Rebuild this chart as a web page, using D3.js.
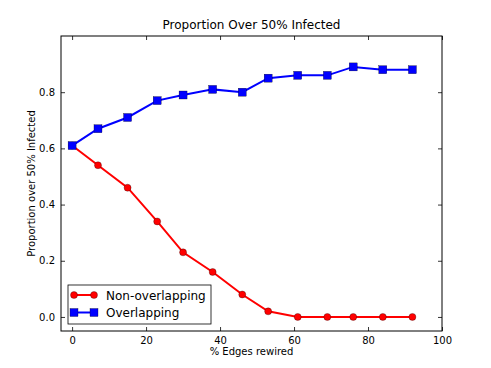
<!DOCTYPE html>
<html>
<head>
<meta charset="utf-8">
<script src="https://cdn.jsdelivr.net/npm/d3@7"></script>
<style>
  body { margin: 0; background: #fff; }
  svg text { font-family: "DejaVu Sans", sans-serif; }
</style>
</head>
<body>
<svg width="491" height="368"></svg>
<script>
const width = 491;
const height = 368;

// Data
const rewired = [0, 7, 15, 23, 30, 38, 46, 53, 61, 69, 76, 84, 92];
const nonOverlapping = [0.61, 0.54, 0.46, 0.34, 0.23, 0.16, 0.08, 0.02, 0, 0, 0, 0, 0];
const overlapping = [0.61, 0.67, 0.71, 0.77, 0.79, 0.81, 0.80, 0.85, 0.86, 0.86, 0.89, 0.88, 0.88];
const xTicks = [0, 20, 40, 60, 80, 100];
const yTicks = [0, 0.2, 0.4, 0.6, 0.8];

const margin = { left: 61, right: 49, top: 36, bottom: 37 };
const svg = d3.select("svg");

const x = d3.scaleLinear().domain([-3, 100]).range([margin.left, width - margin.right]);
const y = d3.scaleLinear().domain([-0.05, 1.0]).range([height - margin.bottom, margin.top]);

// Ticks (inside, on all four sides)
const tickLen = 4;
const xAxisB = svg.append("g").attr("transform", `translate(0,${y.range()[0]})`)
  .call(d3.axisBottom(x).tickValues(xTicks).tickSizeInner(-tickLen).tickSizeOuter(0).tickPadding(6).tickFormat(d3.format("d")));
const xAxisT = svg.append("g").attr("transform", `translate(0,${y.range()[1]})`)
  .call(d3.axisTop(x).tickValues(xTicks).tickSizeInner(-tickLen).tickSizeOuter(0).tickFormat(""));
const yAxisL = svg.append("g").attr("transform", `translate(${x.range()[0]},0)`)
  .call(d3.axisLeft(y).tickValues(yTicks).tickSizeInner(-tickLen).tickSizeOuter(0).tickPadding(6).tickFormat(d3.format(".1f")));
const yAxisR = svg.append("g").attr("transform", `translate(${x.range()[1]},0)`)
  .call(d3.axisRight(y).tickValues(yTicks).tickSizeInner(-tickLen).tickSizeOuter(0).tickFormat(""));

[xAxisB, xAxisT, yAxisL, yAxisR].forEach(g => {
  g.select(".domain").remove();
  g.selectAll("line").attr("stroke", "#000").attr("stroke-width", 0.8);
  g.selectAll("text").attr("font-size", 10).attr("fill", "#000").attr("font-family", "DejaVu Sans, sans-serif");
});

// Frame
svg.append("rect")
  .attr("x", x.range()[0]).attr("y", y.range()[1])
  .attr("width", x.range()[1] - x.range()[0])
  .attr("height", y.range()[0] - y.range()[1])
  .attr("fill", "none").attr("stroke", "#000").attr("stroke-width", 1);

const line = d3.line().x(d => x(d[0])).y(d => y(d[1]));
const redData = rewired.map((r, i) => [r, nonOverlapping[i]]);
const blueData = rewired.map((r, i) => [r, overlapping[i]]);

// Non-overlapping series
svg.append("path").datum(redData).attr("d", line)
  .attr("fill", "none").attr("stroke", "#ff0000").attr("stroke-width", 2);
svg.append("g").selectAll("circle").data(redData).enter().append("circle")
  .attr("cx", d => x(d[0])).attr("cy", d => y(d[1])).attr("r", 3.5)
  .attr("fill", "#ff0000").attr("stroke", "#000").attr("stroke-width", 0.3);

// Overlapping series
svg.append("path").datum(blueData).attr("d", line)
  .attr("fill", "none").attr("stroke", "#0000ff").attr("stroke-width", 2);
svg.append("g").selectAll("rect").data(blueData).enter().append("rect")
  .attr("x", d => x(d[0]) - 4).attr("y", d => y(d[1]) - 4).attr("width", 8).attr("height", 8)
  .attr("fill", "#0000ff").attr("stroke", "#000").attr("stroke-width", 0.3);

// Title and labels
svg.append("text").attr("x", (x.range()[0] + x.range()[1]) / 2).attr("y", 29)
  .attr("text-anchor", "middle").attr("font-size", 12).text("Proportion Over 50% Infected");
svg.append("text").attr("x", (x.range()[0] + x.range()[1]) / 2).attr("y", 355)
  .attr("text-anchor", "middle").attr("font-size", 10).text("% Edges rewired");
svg.append("text")
  .attr("transform", `translate(35,${(y.range()[0] + y.range()[1]) / 2}) rotate(-90)`)
  .attr("text-anchor", "middle").attr("font-size", 10).text("Proportion over 50% Infected");

// Legend
const legend = svg.append("g");
legend.append("rect").attr("x", 68).attr("y", 285).attr("width", 143).attr("height", 39)
  .attr("fill", "#fff").attr("stroke", "#000").attr("stroke-width", 0.8);
const items = [
  { label: "Non-overlapping", color: "#ff0000", shape: "circle" },
  { label: "Overlapping", color: "#0000ff", shape: "square" }
];
items.forEach((it, i) => {
  const ly = 295 + i * 17.5;
  legend.append("line").attr("x1", 74).attr("x2", 94).attr("y1", ly).attr("y2", ly)
    .attr("stroke", it.color).attr("stroke-width", 2);
  [74, 94].forEach(px => {
    if (it.shape === "circle") {
      legend.append("circle").attr("cx", px).attr("cy", ly).attr("r", 3.5)
        .attr("fill", it.color).attr("stroke", "#000").attr("stroke-width", 0.3);
    } else {
      legend.append("rect").attr("x", px - 4).attr("y", ly - 4).attr("width", 8).attr("height", 8)
        .attr("fill", it.color).attr("stroke", "#000").attr("stroke-width", 0.3);
    }
  });
  legend.append("text").attr("x", 106).attr("y", ly + 4.5).attr("font-size", 12).text(it.label);
});
</script>
</body>
</html>
